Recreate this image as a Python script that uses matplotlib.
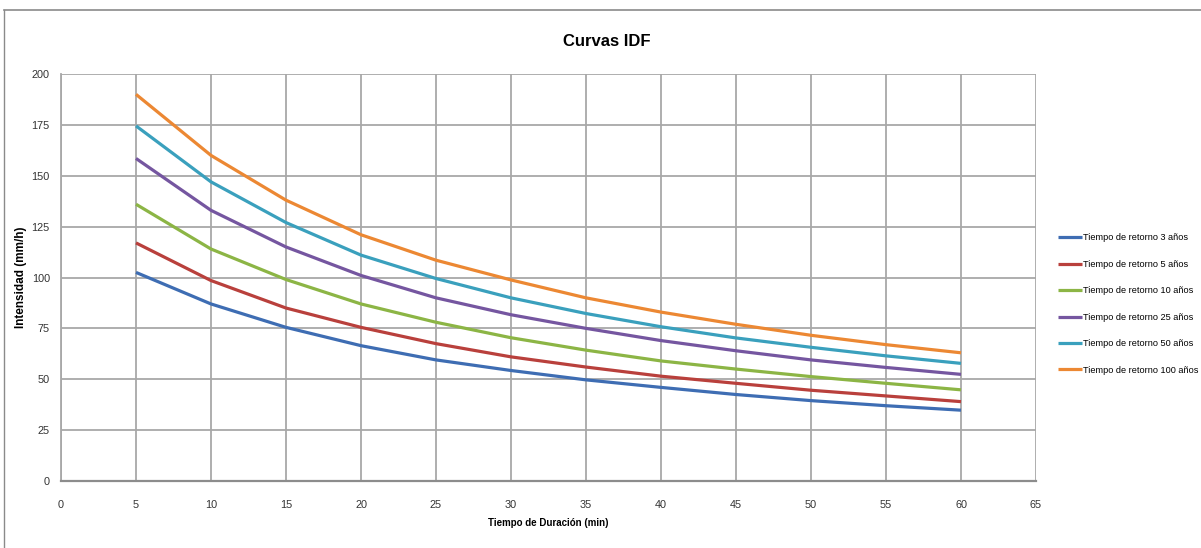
import matplotlib
matplotlib.use("Agg")
import matplotlib.pyplot as plt
from matplotlib.lines import Line2D

plt.rcParams['font.family'] = ['Liberation Sans', 'DejaVu Sans']

durations = [5, 10, 15, 20, 25, 30, 35, 40, 45, 50, 55, 60]
series_labels = ["Tiempo de retorno 3 años", "Tiempo de retorno 5 años",
                 "Tiempo de retorno 10 años", "Tiempo de retorno 25 años",
                 "Tiempo de retorno 50 años", "Tiempo de retorno 100 años"]
tr3 = [102.5, 87, 75.5, 66.5, 59.5, 54.3, 49.7, 46, 42.5, 39.5, 37, 34.8]
tr5 = [117, 98.5, 85, 75.5, 67.5, 61, 56, 51.5, 48, 44.6, 41.8, 39]
tr10 = [136, 114, 99, 87, 78, 70.4, 64.3, 59, 55, 51.3, 48, 44.8]
tr25 = [158.5, 133, 115, 101, 90, 81.7, 75, 69, 64, 59.5, 55.8, 52.4]
tr50 = [174.5, 147, 127, 111, 99.5, 90, 82.3, 75.8, 70.3, 65.7, 61.5, 57.8]
tr100 = [190, 160, 138, 121, 108.5, 98.8, 90, 83, 77, 71.6, 67, 63]
series = [tr3, tr5, tr10, tr25, tr50, tr100]
colors = ["#3e6db3", "#b9403c", "#8cb545", "#7556a0", "#3aa0bd", "#ec8833"]
xticks = list(range(0, 70, 5))
yticks = list(range(0, 225, 25))

fig = plt.figure(figsize=(12.01, 5.48), dpi=100)
ax = fig.add_axes([61/1201, 1-481/548, (1036-61)/1201, (481-74)/548])

for vals, lab, c in zip(series, series_labels, colors):
    ax.plot(durations, vals, color=c, lw=2.3, label=lab, solid_capstyle='butt')

ax.set_xlim(0, 65)
ax.set_ylim(0, 200)
ax.set_xticks(xticks)
ax.set_yticks(yticks)
ax.grid(True, color="#a8a8a8", lw=1.3)
ax.set_axisbelow(True)
for s in ['top', 'right']:
    ax.spines[s].set_visible(False)
ax.spines['bottom'].set_color('#8c8c8c')
ax.spines['bottom'].set_linewidth(1.6)
ax.spines['left'].set_color('#a8a8a8')
ax.spines['left'].set_linewidth(1.3)
ax.tick_params(axis='both', length=0, labelsize=7.8, colors='#333333')
ax.tick_params(axis='x', pad=14)
ax.tick_params(axis='y', pad=8)

ax.set_xlabel("Tiempo de Duración (min)", fontsize=7, fontweight='bold')
ax.set_ylabel("Intensidad (mm/h)", fontsize=8.5, fontweight='bold')
ax.xaxis.set_label_coords((548-61)/975, -(523-481)/407)
ax.xaxis.label.set_va('center')
ax.yaxis.set_label_coords((21-61)/975, (481-277)/407)
ax.yaxis.label.set_va('center')
fig.text(607/1201, 1-42/548, "Curvas IDF", ha='center', va='center',
         fontsize=12, fontweight='bold')

leg = ax.legend(loc='center left', bbox_to_anchor=(1050/1201, 1-304/548),
                bbox_transform=fig.transFigure, frameon=False, fontsize=6.6,
                handlelength=2.6, handletextpad=0.15, labelspacing=1.9)

# outer frame
fig.add_artist(Line2D([4/1201, 1], [1-10/548, 1-10/548], transform=fig.transFigure,
                      color='#8a8a8a', lw=1.2))
fig.add_artist(Line2D([4/1201, 4/1201], [0, 1-10/548], transform=fig.transFigure,
                      color='#8a8a8a', lw=1.0))

fig.savefig("out.png", dpi=100)
